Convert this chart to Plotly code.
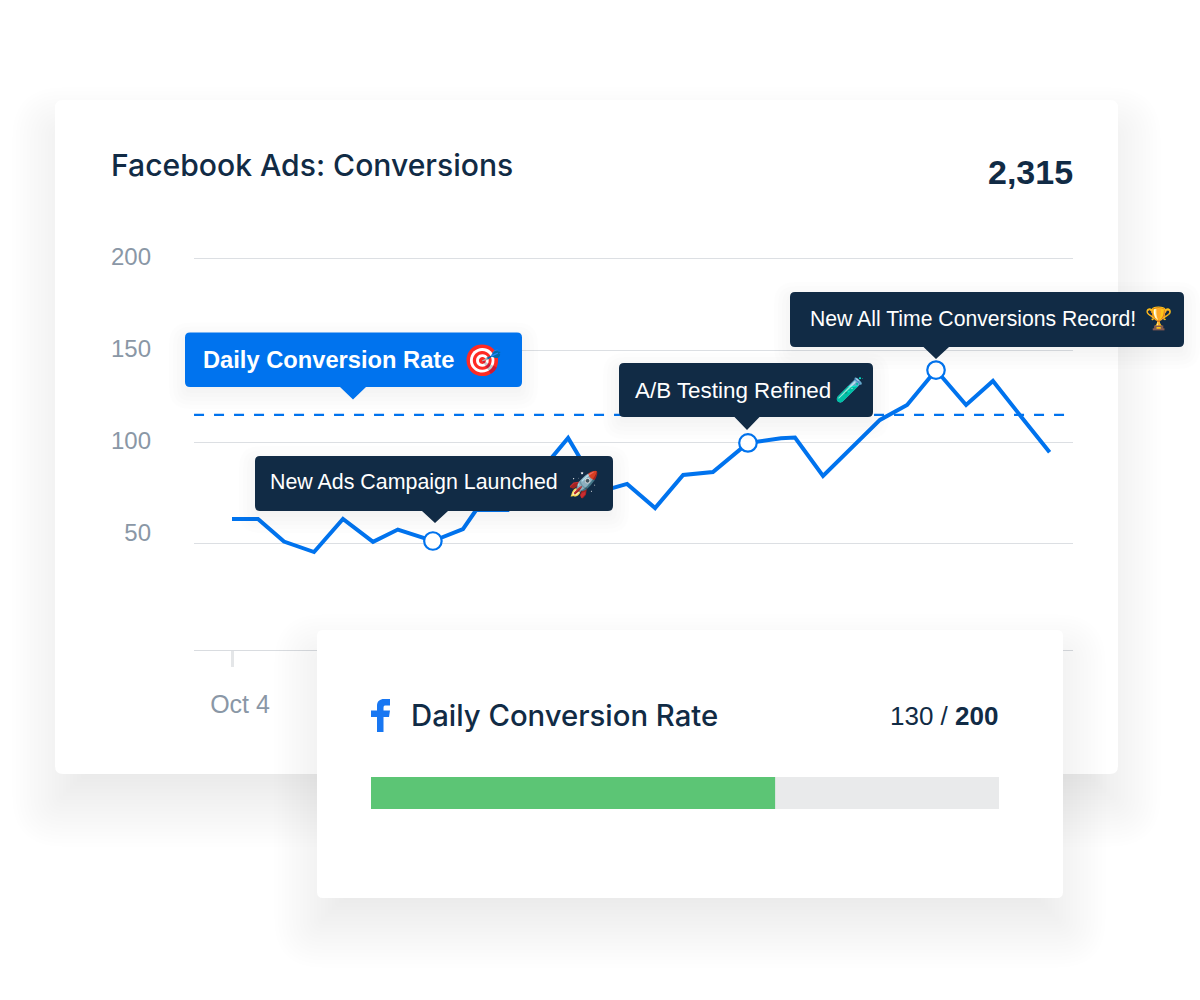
import plotly.graph_objects as go

# ---- data ----
day_pos = [0, 0.89, 1.78, 2.81, 3.80, 4.83, 5.68, 6.88, 7.91, 8.36, 9.45, 11.51, 12.6, 13.53,
           14.49, 15.45, 16.47, 17.67, 18.8, 19.28, 20.24, 21.23, 22.19, 23.12, 24.11, 25.14,
           26.06, 27.02, 28.0]
conversions = [58.2, 58.2, 45.9, 40.2, 58.2, 45.7, 52.4, 46.2, 52.7, 63.0, 63.0, 102.2, 73.0, 77.2,
               64.1, 82.1, 83.7, 99.5, 102.0, 102.4, 81.6, 97.0, 112.0, 120.1, 139.1, 120.1,
               133.2, 113.9, 94.4]
highlight_days = [6.88, 17.67, 24.11]
highlight_vals = [46.2, 99.5, 139.1]
target_days = [-1.30, 28.55]
target_vals = [114.7, 114.7]
label_ticks = [200, 150, 100, 50]
grid_ticks = [200, 150, 100, 45.1]
x_ticks = [0]
x_tick_labels = ["Oct 4"]
goal_name = ["Daily Conversion Rate"]
goal_total = [200]
goal_fill = [128.7]

FONT = "Liberation Sans, Arial, Helvetica, sans-serif"
HEAD = "Inter, Liberation Sans, Arial, sans-serif"
INK = "#112b45"
BLUE = "#0073ee"
GRAY = "#8a97a6"

W, H = 1200, 1000


def X(px):
    return px / W


def Y(py):
    return 1 - py / H


def rr_points(x0, y0, x1, y1, r, fx, fy, tip=None):
    s = f"M{fx(x0 + r)},{fy(y0)} L{fx(x1 - r)},{fy(y0)} Q{fx(x1)},{fy(y0)} {fx(x1)},{fy(y0 + r)} "
    s += f"L{fx(x1)},{fy(y1 - r)} Q{fx(x1)},{fy(y1)} {fx(x1 - r)},{fy(y1)} "
    if tip:
        a, b, tx, ty = tip
        s += f"L{fx(b)},{fy(y1)} L{fx(tx)},{fy(ty)} L{fx(a)},{fy(y1)} "
    s += f"L{fx(x0 + r)},{fy(y1)} Q{fx(x0)},{fy(y1)} {fx(x0)},{fy(y1 - r)} "
    s += f"L{fx(x0)},{fy(y0 + r)} Q{fx(x0)},{fy(y0)} {fx(x0 + r)},{fy(y0)} Z"
    return s


def shadow(x0, y0, x1, y1, r, spread, dy, alpha, n, fx, fy, **kw):
    # soft edge: nested rounded rectangles from +spread to -spread around the offset box
    out = []
    for i in range(n):
        g = spread * (1 - 2 * i / n)
        out.append(dict(type="path",
                        path=rr_points(x0 - g, y0 - g + dy, x1 + g, y1 + g + dy, max(r + g, 2), fx, fy),
                        fillcolor=f"rgba(30,30,30,{alpha})", line=dict(width=0), **kw))
    return out


shapes = []
# main card
shapes += shadow(55, 100, 1118, 774, 8, 43, 30, 0.0042, 24, X, Y, xref="paper", yref="paper", layer="below")
shapes.append(dict(type="path", path=rr_points(55, 100, 1118, 774, 8, X, Y), fillcolor="white",
                   line=dict(width=0), xref="paper", yref="paper", layer="below"))

# second card sits in the goal bar's subplot, over the chart's axis and under the bar
BX0, BX1, BY0, BY1 = 371, 999, 777, 809
PX0, PX1, PY0, PY1 = 250, 1130, 575, 995
ux = (BX1 - BX0) / goal_total[0]
uy = BY1 - BY0
ymid = (BY0 + BY1) / 2


def fx3(px):
    return (px - BX0) / ux


def fy3(py):
    return (ymid - py) / uy


shapes += shadow(317, 630, 1063, 898, 6, 43, 27, 0.0042, 24, fx3, fy3, xref="x3", yref="y3", layer="between")
shapes.append(dict(type="path", path=rr_points(317, 630, 1063, 898, 6, fx3, fy3), fillcolor="white",
                   line=dict(width=0), xref="x3", yref="y3", layer="between"))

# callouts
callouts = [
    (185, 332.5, 522, 387, BLUE, (340, 366, 353, 399.5)),
    (255, 456, 613, 511, INK, (422, 448, 435, 523)),
    (619, 363, 873, 417, INK, (734.5, 759.5, 747, 430)),
    (790, 292, 1184, 347, INK, (923.5, 949, 936, 359)),
]
for x0, y0, x1, y1, c, tip in callouts:
    shapes += shadow(x0, y0, x1, y1, 5, 16, 6, 0.008, 8, X, Y, xref="paper", yref="paper", layer="above")
for x0, y0, x1, y1, c, tip in callouts:
    shapes.append(dict(type="path", path=rr_points(x0, y0, x1, y1, 5, X, Y, tip), fillcolor=c,
                       line=dict(width=0), xref="paper", yref="paper", layer="above"))

# facebook "f" logo
f_pts = ("M{0},{1} L{0},{2} L{3},{2} L{3},{4} L{0},{4} L{0},{5} C{0},{6} {7},{8} {9},{8} L{10},{8} L{10},{11} "
         "L{12},{11} C{13},{11} {14},{15} {14},{16} L{14},{4} L{10},{4} L{17},{2} L{14},{2} L{14},{1} Z")
f_path = f_pts.format(X(377), Y(732), Y(717), X(371), Y(710.5), Y(706), Y(701), X(380), Y(699), X(384), X(390),
                      Y(705.5), X(386), X(384), X(383.5), Y(706), Y(708), X(389))
shapes.append(dict(type="path", path=f_path, fillcolor="#1877f2", line=dict(width=0),
                   xref="paper", yref="paper", layer="above"))


def note(px, py, text, size, color, anchor="left", bold=False, family=FONT, weight=None):
    font = dict(family=family, size=size, color=color)
    if weight:
        font["weight"] = weight
    return dict(xref="paper", yref="paper", x=X(px), y=Y(py), text=f"<b>{text}</b>" if bold else text,
                showarrow=False, xanchor=anchor, yanchor="middle", borderpad=0, borderwidth=0, font=font)


annotations = [
    note(1073, 172, "2,315", 34, INK, "right", True),
    note(203, 360, "Daily Conversion Rate", 23.7, "white", bold=True),
    note(482, 360, "\U0001F3AF", 31, "white", "center"),
    note(270, 482, "New Ads Campaign Launched", 21.4, "white"),
    note(583, 484, "\U0001F680", 25, "white", "center"),
    note(635, 390, "A/B Testing Refined", 22.4, "white"),
    note(850, 390, "\U0001F9EA", 24, "white", "center"),
    note(810, 318, "New All Time Conversions Record!", 21.2, "white"),
    note(1158, 318, "\U0001F3C6", 22, "white", "center"),
    note(411, 715.5, goal_name[0], 29.3, INK, family=HEAD, weight=500),
    note(998, 716, f"130 / <b>{goal_total[0]}</b>", 26, INK, "right"),
]

fig = go.Figure()
fig.add_trace(go.Scatter(x=target_days, y=target_vals, yaxis="y2", mode="lines",
                         line=dict(color=BLUE, width=2.3, dash="10px,10px"), hoverinfo="skip"))
fig.add_trace(go.Scatter(x=day_pos, y=conversions, mode="lines",
                         line=dict(color=BLUE, width=4, shape="linear"), hoverinfo="skip"))
fig.add_trace(go.Scatter(x=highlight_days, y=highlight_vals, mode="markers",
                         marker=dict(size=17.5, color="white", line=dict(color=BLUE, width=2.2)), hoverinfo="skip"))
fig.add_trace(go.Bar(x=goal_total, y=[0], orientation="h", xaxis="x3", yaxis="y3", width=1,
                     marker=dict(color="#e9eaeb", line=dict(width=0)), hoverinfo="skip"))
fig.add_trace(go.Bar(x=goal_fill, y=[0], orientation="h", xaxis="x3", yaxis="y3", width=1,
                     marker=dict(color="#5cc575", line=dict(width=0)), hoverinfo="skip"))

y_range = [100 - 208 / 1.84, 100 + 212 / 1.84]
fig.update_layout(
    width=W, height=H, margin=dict(l=0, r=0, t=0, b=0), autosize=False,
    paper_bgcolor="white", plot_bgcolor="rgba(0,0,0,0)", showlegend=False, barmode="overlay",
    title=dict(text="Facebook Ads: Conversions", x=111 / W, xanchor="left", xref="paper",
               y=Y(165), yanchor="middle", yref="paper",
               font=dict(family=HEAD, size=30.1, color=INK, weight=500)),
    xaxis=dict(domain=[X(194), X(1073)], range=[(194 - 232) / 29.2, (1073 - 232) / 29.2],
               tickmode="array", tickvals=x_ticks, ticktext=x_tick_labels, ticks="outside", ticklen=16,
               tickwidth=3, tickcolor="#e4e6e8", showgrid=False, zeroline=False, showline=True,
               linecolor="#d9dce0", linewidth=1, ticklabelshift=8, ticklabelstandoff=16,
               tickfont=dict(family=FONT, size=25, color=GRAY), anchor="y"),
    yaxis=dict(domain=[Y(650), Y(230)], range=y_range, tickmode="array", tickvals=label_ticks,
               ticks="", showgrid=False, zeroline=False, showline=False, ticklabelstandoff=42,
               ticklabelshift=-1, tickfont=dict(family=FONT, size=24, color=GRAY), anchor="x"),
    yaxis2=dict(overlaying="y", side="left", range=y_range, tickmode="array", tickvals=grid_ticks,
                showticklabels=False, ticks="", showgrid=True, gridcolor="#dcdfe3", gridwidth=1,
                zeroline=False, showline=False, anchor="x"),
    xaxis3=dict(domain=[X(PX0), X(PX1)], range=[fx3(PX0), fx3(PX1)], visible=False, anchor="y3", fixedrange=True),
    yaxis3=dict(domain=[Y(PY1), Y(PY0)], range=[fy3(PY1), fy3(PY0)], visible=False, anchor="x3", fixedrange=True),
    shapes=shapes, annotations=annotations,
)
fig.write_html("out.html", config=dict(displayModeBar=False),
               post_script="document.body.style.margin='0';document.body.style.overflow='hidden';")
